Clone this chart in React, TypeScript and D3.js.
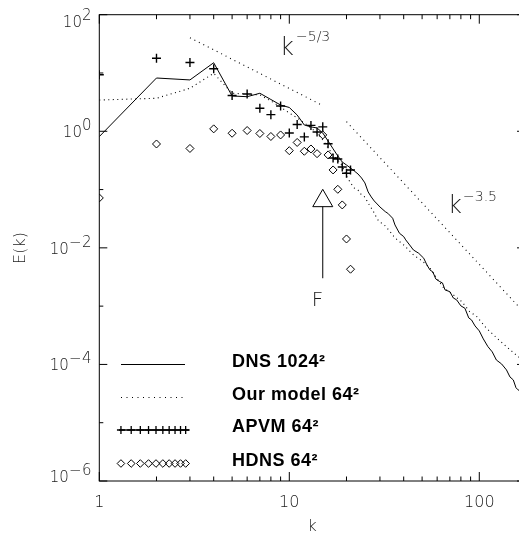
import { useEffect, useRef } from 'react';
import * as d3 from 'd3';

// Energy spectra E(k) — DNS 1024², model 64², APVM 64², HDNS 64²
const K_MIN = 1;
const K_MAX = 174;
const E_MIN = 1e-6;
const E_MAX = 1e2;

const dnsK = [1, 2, 3, 4, 5, 6, 7, 8, 9, 10, 11, 12, 13, 14, 15, 16, 17, 18, 19, 20, 21, 22, 23, 24, 25, 26, 27, 28, 29, 30,
  32, 33, 35, 36, 38, 40, 41, 43, 45, 48, 51, 53, 55, 57, 59, 62, 64, 66, 70, 73, 76, 80, 84, 88, 91, 95, 100, 105, 111,
  117, 123, 131, 139, 145, 151, 156, 160, 166, 174];
const dnsE = [0.81, 8.2, 7.6, 15.0, 4.03, 3.92, 4.49, 3.51, 2.82, 2.56, 1.9, 1.28, 1.19, 1.14, 0.935, 0.68, 0.5, 0.377,
  0.297, 0.264, 0.234, 0.208, 0.185, 0.158, 0.13, 0.091, 0.0747, 0.0637, 0.0566, 0.0503,
  0.0418, 0.0392, 0.0322, 0.0247, 0.0178, 0.0156, 0.0137, 0.0112, 0.0092, 0.00807, 0.00664, 0.00509, 0.00418, 0.00385,
  0.00293, 0.00263, 0.0025, 0.0019, 0.00177, 0.00138, 0.00128, 0.00101, 0.00092, 0.000628, 0.00058, 0.000457, 0.000376,
  0.000274, 0.000202, 0.000164, 0.000119, 0.000102, 8.05e-5, 6.1e-5, 5.42e-5, 3.98e-5, 3.66e-5, 3.39e-5, 2.66e-5];

const modelK = [1, 2, 3, 4, 5, 6, 7, 8, 9, 10, 11, 12, 13, 14, 15, 16, 17, 18, 19, 20, 21, 22, 23, 24, 25, 26, 27, 28, 29, 30,
  32, 34, 36, 40, 45, 50, 55, 60, 65, 73, 81, 89, 97, 109, 124, 139, 160, 174];
const modelE = [3.44, 3.68, 5.47, 9.89, 4.49, 4.36, 4.2, 3.31, 2.61, 2.06, 1.69, 1.39, 1.14, 0.935, 0.71, 0.518, 0.393,
  0.322, 0.254, 0.171, 0.13, 0.106, 0.098, 0.0807, 0.0746, 0.0589, 0.0483, 0.0397, 0.0313, 0.0278,
  0.0238, 0.0188, 0.0148, 0.0112, 0.00759, 0.00596, 0.00452, 0.00293, 0.00205, 0.00156, 0.00119, 0.000805, 0.000661,
  0.000418, 0.000282, 0.000202, 0.000136, 0.000115];

const apvmK = [1, 2, 3, 4, 5, 6, 7, 8, 9, 10, 11, 12, 13, 14, 15, 16, 17, 18, 19, 20, 21];
const apvmE = [9.35, 17.9, 15.1, 11.8, 4.11, 4.36, 2.48, 1.93, 2.72, 0.935, 1.31, 0.8, 1.26, 0.97, 1.19, 0.61, 0.348,
  0.335, 0.244, 0.19, 0.217];

const hdnsK = [1, 2, 3, 4, 5, 6, 7, 8, 9, 10, 11, 12, 13, 14, 15, 16, 17, 18, 19, 20, 21];
const hdnsE = [0.0718, 0.605, 0.507, 1.1, 0.925, 1.03, 0.916, 0.814, 0.865, 0.465, 0.643, 0.454, 0.497, 0.413, 0.865,
  0.393, 0.217, 0.101, 0.0545, 0.0142, 0.0043];

// reference slopes
const slope53K = [3, 14.5];
const slope53E = [40.3, 2.92];
const slope35K = [20, 174];
const slope35E = [1.46, 7.5e-4];

// forcing arrow at k = 15
const forceK = 15;
const forceE = [0.101, 0.0509, 0.00301]; // apex, base of head, tail

const legendItems = [
  { label: 'DNS 1024²', kind: 'solid' },
  { label: 'Our model 64²', kind: 'dotted' },
  { label: 'APVM 64²', kind: 'plus' },
  { label: 'HDNS 64²', kind: 'diamond' },
];

const xTickLabels = [1, 10, 100];
const yTickExps = [2, 0, -2, -4, -6];

const LABEL_FONT = '"DejaVu Sans", sans-serif';
const LEGEND_FONT = '"Liberation Sans", Arial, sans-serif';

export default function App() {
  const svgRef = useRef<SVGSVGElement>(null);

  useEffect(() => {
    if (!svgRef.current) return;
    const svg = d3.select(svgRef.current);
    svg.selectAll('*').remove();

    const x = d3.scaleLog().domain([K_MIN, K_MAX]).range([99.3, 525]);
    const y = d3.scaleLog().domain([E_MIN, E_MAX]).range([481, 14.7]);
    const [x0, x1] = x.range();
    const [yb, yt] = y.range();

    svg.append('defs').append('clipPath').attr('id', 'plotclip')
      .append('rect').attr('x', x0).attr('y', yt).attr('width', x1 - x0).attr('height', yb - yt);

    const plot = svg.append('g').attr('clip-path', 'url(#plotclip)');
    const line = d3.line<number[]>().x(d => x(d[0])).y(d => y(d[1]));

    const plusPath = (cx: number, cy: number, r = 4.5) =>
      `M${cx - r},${cy}H${cx + r}M${cx},${cy - r}V${cy + r}`;
    const diamondPath = (cx: number, cy: number, r = 4) =>
      `M${cx},${cy - r}L${cx + r},${cy}L${cx},${cy + r}L${cx - r},${cy}Z`;

    // DNS
    plot.append('path').datum(d3.zip(dnsK, dnsE)).attr('d', line)
      .attr('fill', 'none').attr('stroke', '#000').attr('stroke-width', 1);
    // model
    plot.append('path').datum(d3.zip(modelK, modelE)).attr('d', line)
      .attr('fill', 'none').attr('stroke', '#000').attr('stroke-width', 1.1).attr('stroke-dasharray', '1,3.5');
    // slopes
    plot.append('path').datum(d3.zip(slope53K, slope53E)).attr('d', line)
      .attr('fill', 'none').attr('stroke', '#000').attr('stroke-width', 1.1).attr('stroke-dasharray', '1,4');
    plot.append('path').datum(d3.zip(slope35K, slope35E)).attr('d', line)
      .attr('fill', 'none').attr('stroke', '#000').attr('stroke-width', 1.1).attr('stroke-dasharray', '1,4');

    // APVM
    plot.append('path')
      .attr('d', apvmK.map((k, i) => plusPath(x(k), y(apvmE[i]))).join(''))
      .attr('stroke', '#000').attr('stroke-width', 1.4).attr('fill', 'none');
    // HDNS
    plot.append('path')
      .attr('d', hdnsK.map((k, i) => diamondPath(x(k), y(hdnsE[i]))).join(''))
      .attr('stroke', '#000').attr('stroke-width', 1).attr('fill', 'none');

    // forcing arrow
    const ax = x(forceK);
    const [ya, yh, ytail] = forceE.map(e => y(e));
    svg.append('path')
      .attr('d', `M${ax},${ya}L${ax + 10},${yh}L${ax - 10},${yh}Z M${ax},${yh}V${ytail}`)
      .attr('fill', 'none').attr('stroke', '#000').attr('stroke-width', 1);

    const txt = (sel: d3.Selection<SVGTextElement, unknown, null, undefined>, size: number) =>
      sel.attr('fill', '#1a1a1a').style('font-family', LABEL_FONT).style('font-weight', 200)
        .style('font-size', `${size}px`);

    txt(svg.append('text').attr('x', ax - 11).attr('y', 306), 20).text('F');

    // slope labels
    const slopeLabel = (tx: number, ty: number, exp: string, ex: number, ey: number) => {
      txt(svg.append('text').attr('x', tx).attr('y', ty), 24).text('k');
      txt(svg.append('text').attr('x', ex).attr('y', ey), 14).text(exp);
    };
    slopeLabel(280, 55, '−5/3', 296, 41);
    slopeLabel(448, 213, '−3.5', 463, 201);

    // frame
    svg.append('rect').attr('x', x0).attr('y', yt).attr('width', x1 - x0).attr('height', yb - yt)
      .attr('fill', 'none').attr('stroke', '#000').attr('stroke-width', 1);

    // x ticks
    const xTicks: { v: number; major: boolean }[] = [];
    for (let d = 1; d <= 100; d *= 10) {
      for (let m = 1; m <= 9; m++) {
        if (d * m <= K_MAX) xTicks.push({ v: d * m, major: m === 1 });
      }
    }
    const tickG = svg.append('g').attr('stroke', '#000').attr('stroke-width', 1);
    xTicks.forEach(t => {
      const len = t.major ? 9 : 4.5;
      const px = x(t.v);
      tickG.append('line').attr('x1', px).attr('x2', px).attr('y1', yb).attr('y2', yb - len);
      tickG.append('line').attr('x1', px).attr('x2', px).attr('y1', yt).attr('y2', yt + len);
    });
    // y ticks: decades
    for (let p = -6; p <= 2; p++) {
      const len = p % 2 === 0 ? 8 : 4;
      const py = y(Math.pow(10, p));
      tickG.append('line').attr('x1', x0).attr('x2', x0 + len).attr('y1', py).attr('y2', py);
      tickG.append('line').attr('x1', x1).attr('x2', x1 - len).attr('y1', py).attr('y2', py);
    }

    // x tick labels
    xTickLabels.forEach(v => {
      txt(svg.append('text').attr('x', x(v)).attr('y', 507).attr('text-anchor', 'middle'), 16).text(v);
    });
    txt(svg.append('text').attr('x', (x0 + x1) / 2).attr('y', 531).attr('text-anchor', 'middle'), 16).text('k');

    // y tick labels
    yTickExps.forEach((p, i) => {
      const py = y(Math.pow(10, p));
      const off = i === 0 ? 12 : i === yTickExps.length - 1 ? 1 : 6;
      const t = txt(svg.append('text').attr('x', 92).attr('y', py + off).attr('text-anchor', 'end'), 15);
      t.append('tspan').text('10');
      t.append('tspan').attr('dy', -7).style('letter-spacing', '0.5px')
        .text(p < 0 ? `−${-p}` : `${p}`);
    });
    txt(svg.append('text').attr('transform', 'translate(25,248) rotate(-90)').attr('text-anchor', 'middle'), 16)
      .text('E(k)');

    // legend
    const lg = svg.append('g');
    const legY = [364.5, 397.5, 430, 463.5];
    const lx0 = 121;
    const lx1 = 185;
    const symK = d3.range(10).map(i => 1.3 + i * 0.172);
    legendItems.forEach((item, i) => {
      const ly = legY[i];
      if (item.kind === 'solid') {
        lg.append('line').attr('x1', lx0).attr('x2', lx1).attr('y1', ly).attr('y2', ly)
          .attr('stroke', '#000').attr('stroke-width', 1);
      } else if (item.kind === 'dotted') {
        lg.append('line').attr('x1', lx0).attr('x2', lx1).attr('y1', ly).attr('y2', ly)
          .attr('stroke', '#000').attr('stroke-width', 1).attr('stroke-dasharray', '1,4.5');
      } else if (item.kind === 'plus') {
        lg.append('line').attr('x1', lx0 - 2).attr('x2', lx1 + 4).attr('y1', ly).attr('y2', ly)
          .attr('stroke', '#000').attr('stroke-width', 1.3);
        lg.append('path').attr('d', symK.map(k => plusPath(x(k), ly, 4)).join(''))
          .attr('stroke', '#000').attr('stroke-width', 1.3).attr('fill', 'none');
      } else {
        lg.append('path').attr('d', symK.map(k => diamondPath(x(k), ly, 3.8)).join(''))
          .attr('stroke', '#000').attr('stroke-width', 1).attr('fill', 'none');
      }
      lg.append('text').attr('x', 232).attr('y', ly + 2).attr('fill', '#000')
        .style('font-family', LEGEND_FONT).style('font-weight', 'bold').style('font-size', '18px')
        .style('letter-spacing', '0.5px').text(item.label);
    });
  }, []);

  return (
    <svg ref={svgRef} width={519} height={534}
      style={{ position: 'absolute', left: 0, top: 0, background: '#fff', willChange: 'transform' }} />
  );
}
